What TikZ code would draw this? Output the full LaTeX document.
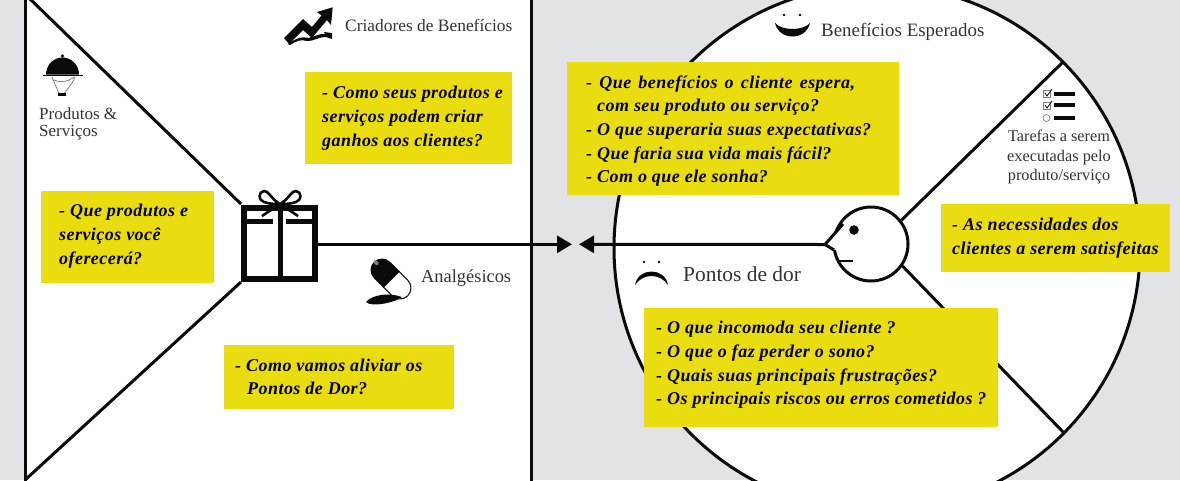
\documentclass[tikz,border=0pt]{standalone}
\usepackage{fontspec}
\setmainfont{Liberation Serif}
\newfontfamily\qfont[LetterSpace=2.5]{Liberation Serif}
\usetikzlibrary{arrows.meta}
\definecolor{pagegray}{HTML}{E1E3E6}
\definecolor{noteyellow}{HTML}{E9DD10}
\definecolor{inkc}{HTML}{0A0A0A}
\definecolor{labelc}{HTML}{333333}
\tikzset{
  x=1pt,y=-1pt,
  frameline/.style={draw=inkc,line width=3pt},
  yellowbox/.style={fill=noteyellow,draw=none,inner sep=0pt,anchor=north west},
  notetext/.style={anchor=west,align=left,inner sep=0pt,text=black,font=\qfont\fontsize{18}{23.7}\selectfont\bfseries\itshape},
  capt/.style={anchor=west,inner sep=0pt,text=labelc,font=\fontsize{17.4}{17}\selectfont},
  captc/.style={align=center,inner sep=0pt,text=labelc,font=\fontsize{16.3}{19.5}\selectfont},
  arrowline/.style={draw=inkc,line width=3pt,-{Triangle[length=15pt,width=17pt]}},
}
\begin{document}
\begin{tikzpicture}
\useasboundingbox (0,0) rectangle (1180,480);
\fill[pagegray] (0,0) rectangle (1180,480);
\begin{scope}
\clip (0,0) rectangle (1180,480);
% left panel
\fill[white] (25,-5) rectangle (531,485);
\draw[frameline] (25,-5) -- (25,485);
\draw[frameline] (531,-5) -- (531,485);
% right circle
\node[circle,draw=inkc,fill=white,line width=3pt,minimum size=526pt,inner sep=0pt] (market) at (877,248) {};
\end{scope}
% gift node and diagonals
\node[draw=inkc,line width=6pt,minimum size=71pt,inner sep=0pt] (gift) at (279.5,243) {};
\coordinate (tl) at (28,-3);
\coordinate (bl) at (25,480);
\draw[frameline] (tl) -- (241,204);
\draw[frameline] (bl) -- (241,282);
\draw[inkc,line width=5pt] (241,221) -- (273,221) (286,221) -- (318,221);
\draw[inkc,line width=5pt] (280,208) -- (280,281);
\draw[inkc,line width=2.6pt,line join=round] (280,204) .. controls (272,200) and (268,190) .. (264,191) .. controls (258,192) and (258,200) .. (264,202) .. controls (269,204) and (275,204) .. (280,204) .. controls (285,204) and (291,204) .. (296,202) .. controls (302,200) and (302,192) .. (296,191) .. controls (292,190) and (288,200) .. (280,204);
\draw[inkc,line width=2.6pt] (280,204) -- (262,216) (280,204) -- (298,216);
% head
\node[circle,draw=inkc,fill=white,line width=3pt,minimum size=74pt,inner sep=0pt] (head) at (871,244) {};
\coordinate (nose) at (825,244.5);
\fill[white] (843,224) -- (826,245) -- (835,250) -- (850,250) -- cycle;
\draw[inkc,line width=3pt,line join=miter] (843,224) -- (nose) -- (834,250);
\fill[inkc] (854,230) circle (4.8pt);
\draw[inkc,line width=2.5pt] (838,261) -- (853,261);
% wedges
\coordinate (w1) at (1063,62);
\coordinate (w2) at (1065,434);
\draw[frameline] (head.38) -- (w1);
\draw[frameline] (head.-35) -- (w2);
% arrows
\coordinate (tipL) at (572,244.3);
\coordinate (tipR) at (579,244.3);
\draw[arrowline] (gift.east |- tipL) -- (tipL);
\draw[arrowline] (nose) -- (tipR);
% yellow boxes
\node[yellowbox,minimum width=173pt,minimum height=92pt] (q1) at (41,191) {};
\node[notetext] (q1t) at (59,236) {- Que produtos e\\serviços você\\oferecerá?};
\node[yellowbox,minimum width=207pt,minimum height=92pt] (q2) at (305,72) {};
\node[notetext] (q2t) at (322,118) {- Como seus produtos e\\serviços podem criar\\ganhos aos clientes?};
\node[yellowbox,minimum width=230pt,minimum height=64pt] (q3) at (224,345) {};
\node[notetext] (q3t) at (235,377) {- Como vamos aliviar os\\\hspace*{12pt}Pontos de Dor?};
\node[yellowbox,minimum width=332pt,minimum height=133pt] (q4) at (567,62) {};
\node[notetext] (q4t) at (586,131) {{\spaceskip=7.2pt - Que benefícios o cliente espera,}\\\hspace*{11pt}com seu produto ou serviço?\\- O que superaria suas expectativas?\\- Que faria sua vida mais fácil?\\- Com o que ele sonha?};
\node[yellowbox,minimum width=229pt,minimum height=68pt] (q5) at (941,204) {};
\node[notetext] (q5t) at (952,238.5) {- As necessidades dos\\clientes a serem satisfeitas};
\node[yellowbox,minimum width=354pt,minimum height=119pt] (q6) at (644,308) {};
\node[notetext] (q6t) at (656,365) {- O que incomoda seu cliente ?\\- O que o faz perder o sono?\\- Quais suas principais frustrações?\\- Os principais riscos ou erros cometidos ?};
% captions
\node[capt] (c1) at (345,25) {Criadores de Benefícios};
\node[capt,font=\fontsize{18.4}{18}\selectfont] (c2) at (421,278) {Analgésicos};
\node[capt,font=\fontsize{18.9}{18}\selectfont] (c3) at (821,32) {Benefícios Esperados};
\node[capt,font=\fontsize{21.4}{18}\selectfont] (c4) at (683,274) {Pontos de dor};
\node[captc,align=left,anchor=north west,font=\fontsize{17}{16.5}\selectfont] (c5) at (39,107.5) {Produtos \&\\Serviços};
\node[captc] (c6) at (1059,157) {Tarefas a serem\\executadas pelo\\produto/serviço};
% cloche icon
\fill[inkc] (46,74.5) arc[start angle=180,end angle=360,x radius=16.5,y radius=17] -- cycle;
\fill[inkc] (62.5,56) circle (1.8pt);
\draw[inkc,line width=1pt] (43,75.5) -- (83,75.5);
\draw[gray,line width=.8pt] (52,77) .. controls (55,85) and (58,90) .. (59,94) (75,77) .. controls (72,85) and (66,90) .. (64,94) (54,80) .. controls (60,83) and (68,82) .. (74,77);
\fill[inkc] (58,93) rectangle (66,96);
% growth icon
\fill[inkc] (332.7,7.3) -- (317,12) -- (321.5,15.5) -- (312,27) -- (303,19) -- (284,38) -- (289,44) -- (303,30) -- (312,38) -- (327,20) -- (331,25) -- cycle;
\fill[inkc] (288,44) .. controls (296,38) and (303,36) .. (308,38) .. controls (314,37) and (320,33) .. (325,34) -- (324,32) -- (332,33) -- (332,39) -- (326,37) .. controls (318,37) and (315,41) .. (307,41) .. controls (301,39) and (296,41) .. (290,45) -- cycle;
% pill icon
\begin{scope}[shift={(391,279)},rotate=-45]
\draw[inkc,fill=white,line width=1pt] (0,-11) -- (12.7,-11) arc[start angle=-90,end angle=90,radius=11] -- (0,11);
\fill[inkc] (1,-11.5) -- (-12.7,-11.5) arc[start angle=270,end angle=90,radius=11.5] -- (1,11.5) -- cycle;
\fill[gray] (-22,-1) ellipse (3pt and 2pt);
\end{scope}
\fill[inkc] (366,302) .. controls (372,295) and (388,292) .. (402,297) .. controls (396,302) and (372,308) .. (366,302) -- cycle;
% smile
\fill[inkc] (784,15) circle (1.4pt) (800,15) circle (1.4pt);
\fill[inkc] (775,23) .. controls (782,31) and (803,31) .. (810,23) .. controls (806,41) and (779,41) .. (775,23) -- cycle;
% frown
\fill[inkc] (644,262) circle (1.3pt) (659,262) circle (1.3pt);
\fill[inkc] (635,285) .. controls (638,267) and (665,267) .. (668,285) .. controls (660,273) and (643,273) .. (635,285) -- cycle;
% checklist
\foreach \yy in {93.5,105,118}{\fill[inkc] (1054,\yy-2) rectangle (1075,\yy+2);}
\draw[gray,line width=.7pt] (1043.5,90) rectangle (1050,97) (1043.5,102) rectangle (1050,109);
\draw[inkc,line width=.8pt] (1045,93) -- (1047,96) -- (1052,89) (1045,105) -- (1047,108) -- (1052,101);
\draw[gray,line width=.7pt] (1046.5,118) ellipse (3.5pt and 3.5pt);
\end{tikzpicture}
\end{document}
